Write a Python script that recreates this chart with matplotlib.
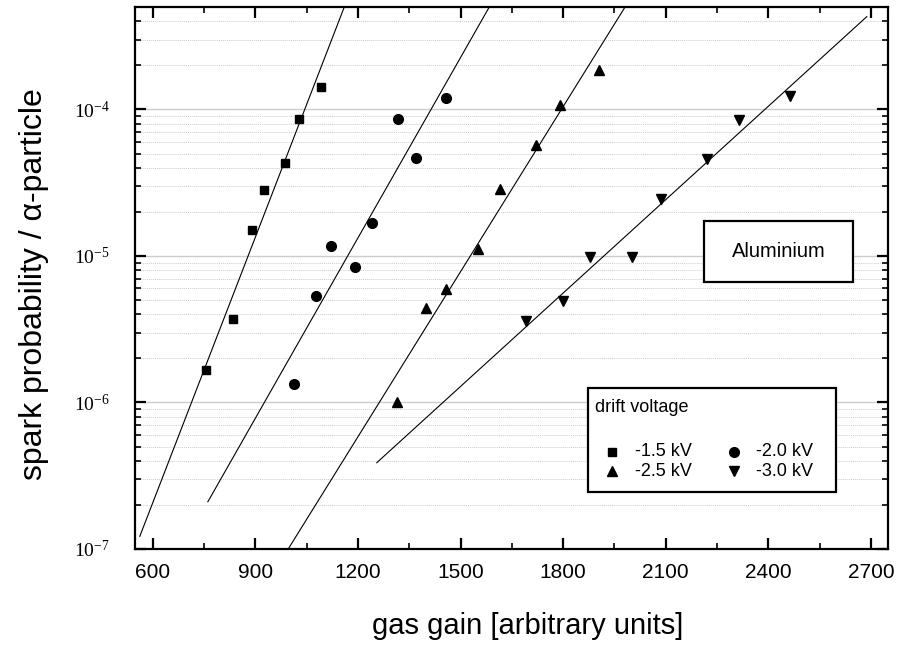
import matplotlib
matplotlib.use("Agg")
import matplotlib.pyplot as plt
from matplotlib.ticker import MultipleLocator, LogLocator, NullFormatter
from matplotlib.patches import Rectangle

# measured points, spark probability vs gas gain
sq_x = [756, 835, 889, 925, 986, 1028, 1092]
sq_y = [1.67e-6, 3.70e-6, 1.50e-5, 2.82e-5, 4.32e-5, 8.6e-5, 1.43e-4]
ci_x = [1014, 1077, 1121, 1191, 1240, 1316, 1370, 1456]
ci_y = [1.33e-6, 5.33e-6, 1.17e-5, 8.37e-6, 1.67e-5, 8.65e-5, 4.69e-5, 1.20e-4]
up_x = [1313, 1398, 1457, 1550, 1615, 1720, 1791, 1905]
up_y = [1.0e-6, 4.4e-6, 5.93e-6, 1.11e-5, 2.88e-5, 5.73e-5, 1.07e-4, 1.86e-4]
dn_x = [1691, 1800, 1878, 2000, 2086, 2220, 2314, 2464]
dn_y = [3.61e-6, 4.93e-6, 9.9e-6, 9.9e-6, 2.45e-5, 4.57e-5, 8.47e-5, 1.24e-4]

# exponential fits (end points)
fit_x = [(562, 1160), (761, 1584), (996, 1981), (1255, 2688)]
fit_y = [(1.22e-7, 5e-4), (2.1e-7, 5e-4), (1e-7, 5e-4), (3.88e-7, 4.3e-4)]

labels = ["-1.5 kV", "-2.0 kV", "-2.5 kV", "-3.0 kV"]
markers = ["s", "o", "^", "v"]
msizes = [6, 7, 7, 7]

sans = ["Liberation Sans", "DejaVu Sans"]
serif = ["Liberation Serif", "DejaVu Serif"]

fig = plt.figure(figsize=(8.97, 6.49), dpi=100)
ax = fig.add_axes([0.1505, 0.1541, 0.8395, 0.8351])

ax.set_yscale("log")
ax.set_xlim(548, 2750)
ax.set_ylim(1e-7, 5e-4)

ax.yaxis.set_major_locator(LogLocator(base=10, numticks=10))
ax.yaxis.set_minor_locator(LogLocator(base=10, subs=range(2, 10), numticks=20))
ax.yaxis.set_minor_formatter(NullFormatter())
ax.xaxis.set_major_locator(MultipleLocator(300))
ax.xaxis.set_minor_locator(MultipleLocator(150))

ax.grid(True, which="major", axis="y", color="#cccccc", lw=1.0, ls="-")
ax.grid(True, which="minor", axis="y", color="#cdcdcd", lw=0.7, ls=(0, (1, 1)))
ax.set_axisbelow(True)

for xs, ys in zip(fit_x, fit_y):
    ax.plot(xs, ys, color="black", lw=0.8)

for xs, ys, m, s in zip([sq_x, ci_x, up_x, dn_x], [sq_y, ci_y, up_y, dn_y], markers, msizes):
    ax.plot(xs, ys, ls="none", marker=m, ms=s, color="black")

for sp in ax.spines.values():
    sp.set_linewidth(1.6)

ax.tick_params(which="both", direction="in", top=True, right=True, width=1.6)
ax.tick_params(which="major", length=8)
ax.tick_params(which="minor", length=4.5, width=1.2)
ax.tick_params(axis="x", which="major", labelsize=15, pad=10)
ax.tick_params(axis="y", which="major", labelsize=14, pad=18)
for t in ax.get_xticklabels():
    t.set_family(sans)
for t in ax.get_yticklabels():
    t.set_family(serif)

ax.set_xlabel("gas gain [arbitrary units]", fontsize=21, family=sans, labelpad=22)
ax.set_ylabel("spark probability / α-particle", fontsize=23, family=sans, labelpad=18)
ax.xaxis.label.set_x(0.521)
ax.yaxis.label.set_y(0.489)

# material box
ax.add_patch(Rectangle((0.7556, 0.4926), 0.1979, 0.1126, transform=ax.transAxes,
                       fill=True, facecolor="white", edgecolor="black", lw=1.6, zorder=5))
ax.text(0.8546, 0.549, "Aluminium", transform=ax.transAxes, ha="center", va="center",
        fontsize=14.5, family=sans, zorder=6)

# legend drawn by hand
ax.add_patch(Rectangle((0.6015, 0.1050), 0.3290, 0.1927, transform=ax.transAxes,
                       fill=True, facecolor="white", edgecolor="black", lw=1.6, zorder=5))
ax.text(0.6115, 0.261, "drift voltage", transform=ax.transAxes, ha="left", va="center",
        fontsize=13, family=sans, zorder=6)
leg_mx = [0.6330, 0.7955, 0.6330, 0.7955]
leg_tx = [0.6640, 0.8250, 0.6640, 0.8250]
leg_y = [0.1795, 0.1795, 0.1430, 0.1430]
for mx, tx, ly, m, s, lab in zip(leg_mx, leg_tx, leg_y, markers, msizes, labels):
    ax.plot([mx], [ly], transform=ax.transAxes, ls="none", marker=m, ms=s,
            color="black", zorder=6, clip_on=False)
    ax.text(tx, ly, lab, transform=ax.transAxes, ha="left", va="center",
            fontsize=13, family=sans, zorder=6)

fig.savefig("out.png", dpi=100)
